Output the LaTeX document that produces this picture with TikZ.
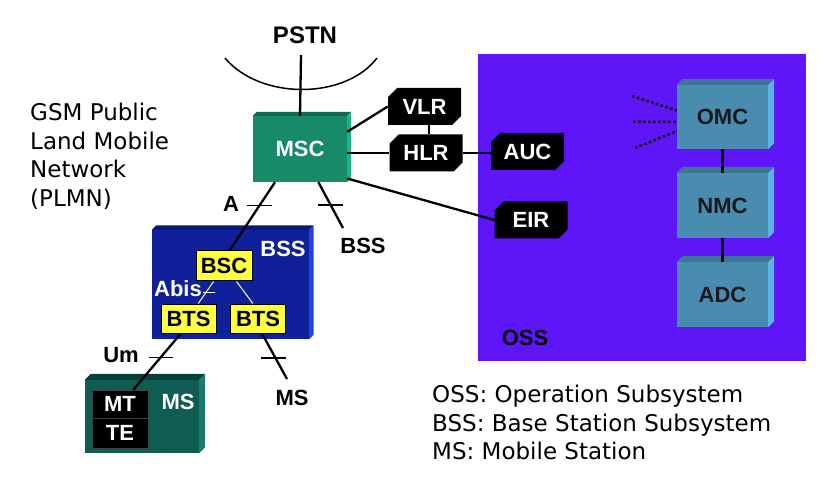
\documentclass[tikz,border=0pt]{standalone}
\usepackage{fontspec}
\setmainfont{Liberation Sans}
\newfontfamily\handfont{DejaVu Sans}
\usepackage{tikz}
\usetikzlibrary{calc,positioning,shapes.misc}

\definecolor{osspurple}{HTML}{5E16F8}
\definecolor{mscfront}{HTML}{178A6A}
\definecolor{msctop}{HTML}{0E6B50}
\definecolor{mscside}{HTML}{20B282}
\definecolor{bssfront}{HTML}{10209A}
\definecolor{bsstop}{HTML}{0A1878}
\definecolor{bssside}{HTML}{2242E0}
\definecolor{msfront}{HTML}{0F5C53}
\definecolor{mstop}{HTML}{083F39}
\definecolor{msside}{HTML}{1A7A6C}
\definecolor{ossfront}{HTML}{4A8CB0}
\definecolor{osstop}{HTML}{3B7595}
\definecolor{ossside}{HTML}{5BB4E4}
\definecolor{cellyellow}{HTML}{FFFF40}

% top and right faces of a box node
\newcommand\boxsides[4]{%
  \fill[#3] (#1.north west) -- ++(#2,-#2) -- ($(#1.north east)+(#2,-#2)$) -- (#1.north east) -- cycle;
  \fill[#4] (#1.north east) -- ++(#2,-#2) -- ($(#1.south east)+(#2,-#2)$) -- (#1.south east) -- cycle;}

\begin{document}
\begin{tikzpicture}[x=1pt,y=-1pt,
lbl/.style={font=\bfseries\fontsize{22}{26}\selectfont},
cube/.style={lbl,inner sep=0pt},
db/.style={lbl,chamfered rectangle,chamfered rectangle corners={north west,south east},
  chamfered rectangle sep=4.5pt,fill=black,text=white,inner sep=0pt,minimum width=73,minimum height=37},
cell/.style={lbl,fill=cellyellow,draw=black,line width=1pt,inner sep=0pt,minimum width=56,minimum height=30},
link/.style={line width=2.3pt},
tick/.style={line width=1.2pt},
hand/.style={font=\handfont\fontsize{23}{28.5}\selectfont,align=left,inner sep=0pt}]

\useasboundingbox (0,0) rectangle (825,489);

% OSS area
\fill[osspurple] (478,54) rectangle (806,361);
\node[lbl] (oss) at (525,338) {OSS};

% PSTN
\node[lbl,font=\bfseries\fontsize{24}{28}\selectfont] (pstn) at (305,35) {PSTN};
\draw[line width=1.5pt] (225,58) .. controls (260,100) and (345,100) .. (377,58);
\coordinate (pstnend) at (301,55);

% boxes
\node[cube,fill=mscfront,text=white,minimum width=94,minimum height=66] (msc) at (300,149) {MSC};
\node[cube,fill=bssfront,minimum width=157,minimum height=109] (bss) at (230.5,284.5) {};
\node[cube,fill=msfront,minimum width=114,minimum height=73] (ms) at (142,416.5) {};
\node[cube,fill=ossfront,text=black!90,minimum width=91,minimum height=64] (omc) at (722.5,117) {OMC};
\node[cube,fill=ossfront,text=black!90,minimum width=91,minimum height=65] (nmc) at (722.5,205.5) {NMC};
\node[cube,fill=ossfront,text=black!90,minimum width=91,minimum height=65] (adc) at (722.5,294.5) {ADC};
\boxsides{msc}{4}{msctop}{mscside}
\boxsides{bss}{4.5}{bsstop}{bssside}
\boxsides{ms}{6}{mstop}{msside}
\boxsides{omc}{6}{osstop}{ossside}
\boxsides{nmc}{6}{osstop}{ossside}
\boxsides{adc}{6}{osstop}{ossside}

\node[db] (vlr) at (424.5,106.5) {VLR};
\node[db] (hlr) at (426,153) {HLR};
\node[db] (auc) at (527.5,151.5) {AUC};
\node[db] (eir) at (531,220) {EIR};

\node[lbl,text=white] (bsslbl) at (283,249) {BSS};
\node[cell] (bsc) at (224,266) {BSC};
\node[cell,minimum width=55,minimum height=29] (bts1) at (188.5,318.5) {BTS};
\node[cell,minimum width=55,minimum height=29] (bts2) at (258,318.5) {BTS};
\node[lbl,text=white] (abis) at (178,289) {Abis};

\node[lbl,text=white] (mslbl) at (178,402) {MS};
\node[lbl,fill=black,draw=black!75,text=white,inner sep=0pt,minimum width=56,minimum height=28] (mt) at (120,404) {MT};
\node[lbl,fill=black,draw=black!75,text=white,inner sep=0pt,minimum width=56,minimum height=30] (te) at (120,433) {TE};

% links
\draw[link] (msc.north) -- (pstnend);
\draw[link] (msc.20) -- (vlr.west);
\draw[link] (hlr.west -| msc.east) -- (hlr.west);
\draw[link] (msc.328) -- (eir.west);
\draw[link] (vlr.south -| 429,0) -- (hlr.north -| 429,0);
\draw[link] (hlr.east) -- (hlr.east -| auc.west);
\draw[link] (omc) -- (nmc);
\draw[link] (nmc) -- (adc);

\coordinate (d1) at (632,96);
\coordinate (d2) at (633,122);
\coordinate (d3) at (635,148);
\foreach \p/\a in {d1/172,d2/186,d3/197}
  \draw[line width=2.5pt,dash pattern=on 2.5pt off 2.5pt] (\p) -- (omc.\a);

% A interface
\draw[link] (msc.233) -- coordinate[pos=0.34] (ta) (bsc.70);
\draw[tick] ($(ta)+(-13,0)$) -- ($(ta)+(12,0)$);
\node[lbl] (alb) at (231,204) {A};

% BSS of another cell
\coordinate (bssend) at (343,228);
\draw[link] (msc.299) -- coordinate[pos=0.5] (tb) (bssend);
\draw[tick] ($(tb)+(-12.5,0)$) -- ($(tb)+(12.5,0)$);
\node[lbl] (bssb) at (363,246) {BSS};

% Abis
\draw[white,line width=1pt] (bsc.236) -- coordinate[pos=0.52] (tc) (bts1.57);
\draw[white,line width=1pt] (bsc.309) -- (bts2.109);
\draw[white,line width=1pt] ($(tc)+(-3,0)$) -- ($(tc)+(9,0)$);

% Um
\draw[link] (bts1.243) -- coordinate[pos=0.42] (td) (mt.47);
\draw[tick] ($(td)+(-12,0)$) -- ($(td)+(12,0)$);
\node[lbl] (um) at (121,355) {Um};

\coordinate (msend) at (287,379);
\draw[link] (bts2.285) -- coordinate[pos=0.54] (te2) (msend);
\draw[tick] ($(te2)+(-15,0)$) -- ($(te2)+(10,0)$);
\node[lbl] (msb) at (292,398) {MS};

% texts
\node[hand,anchor=north west] (plmn) at (30,103) {GSM Public\\Land Mobile\\Network\\(PLMN)};
\node[hand,anchor=north west] (legend) at (432,385) {OSS: Operation Subsystem\\BSS: Base Station Subsystem\\MS: Mobile Station};

\end{tikzpicture}
\end{document}
